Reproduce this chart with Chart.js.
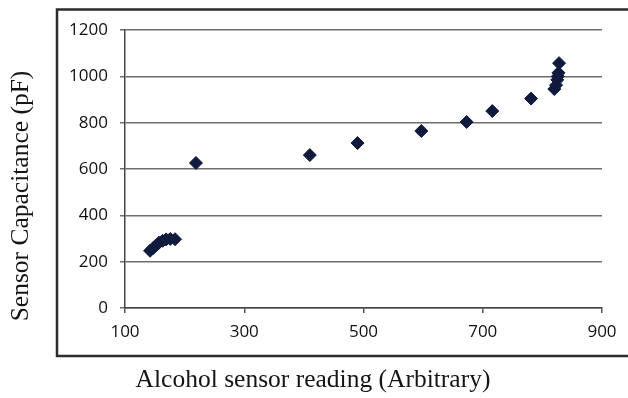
<!DOCTYPE html>
<html>
<head>
<meta charset="utf-8">
<script src="https://cdn.jsdelivr.net/npm/chart.js"></script>
<style>
  html, body { margin: 0; padding: 0; background: #fff; }
  #wrap { width: 628px; height: 398px; }
</style>
</head>
<body>
<div id="wrap"><canvas id="scatter-chart" width="628" height="398"></canvas></div>
<script>
  // values
  const sensorReading = [142, 147, 152, 157, 163, 169, 176, 184, 219, 410, 490, 597, 673, 716, 781, 820, 823, 825, 826, 827, 828];
  const capacitance = [247, 258, 270, 282, 290, 296, 298, 297, 626, 660, 712, 764, 803, 850, 904, 945, 962, 985, 1000, 1015, 1057];
  const xTicks = [100, 300, 500, 700, 900];
  const yTicks = [0, 200, 400, 600, 800, 1000, 1200];

  const xTitle = "Alcohol sensor reading (Arbitrary)";
  const yTitle = "Sensor Capacitance (pF)";

  const points = sensorReading.map((x, i) => ({ x: x, y: capacitance[i] }));

  // frame around the plot and the serif axis titles
  const frameAndTitles = {
    id: "frameAndTitles",
    beforeDraw(chart) {
      const ctx = chart.ctx;
      ctx.save();
      ctx.fillStyle = "#fff";
      ctx.fillRect(0, 0, chart.width, chart.height);
      ctx.strokeStyle = "#2b2b2b";
      ctx.lineWidth = 2.5;
      ctx.strokeRect(57, 9.5, 600, 346.5);
      ctx.restore();
    },
    afterDraw(chart) {
      const ctx = chart.ctx;
      ctx.save();
      ctx.fillStyle = "#151515";
      ctx.font = "25.5px 'Liberation Serif'";
      ctx.textAlign = "center";
      ctx.textBaseline = "middle";
      ctx.fillText(xTitle, 313, 380);
      ctx.translate(21, 196);
      ctx.rotate(-Math.PI / 2);
      ctx.fillText(yTitle, 0, 0);
      ctx.restore();
    },
  };

  const tickFont = { family: "'Open Sans'", size: 17 };

  new Chart(document.getElementById("scatter-chart"), {
    type: "scatter",
    data: {
      datasets: [
        {
          label: "Capacitance",
          data: points,
          pointStyle: "rectRot",
          pointRadius: 6.5,
          pointHoverRadius: 6.5,
          backgroundColor: "#101a3c",
          borderColor: "#101a3c",
          borderWidth: 1,
        },
      ],
    },
    options: {
      responsive: false,
      animation: false,
      layout: { padding: { left: 0, top: 30, right: 26, bottom: 0 } },
      plugins: {
        legend: { display: false },
        tooltip: { enabled: false },
      },
      scales: {
        x: {
          type: "linear",
          min: xTicks[0],
          max: xTicks[xTicks.length - 1],
          afterFit: (s) => { s.height = 90; },
          afterBuildTicks: (s) => { s.ticks = xTicks.map((v) => ({ value: v })); },
          grid: { drawOnChartArea: false, drawTicks: true, tickLength: 5, color: "#555", lineWidth: 1.5 },
          border: { display: true, color: "#444", width: 1.5 },
          ticks: { color: "#111", padding: 9, font: tickFont, callback: (v) => String(v) },
        },
        y: {
          type: "linear",
          min: yTicks[0],
          max: yTicks[yTicks.length - 1],
          afterFit: (s) => { s.width = 125; },
          afterBuildTicks: (s) => { s.ticks = yTicks.map((v) => ({ value: v })); },
          grid: { color: "#6e6e6e", lineWidth: 1.5, tickLength: 5 },
          border: { display: true, color: "#444", width: 1.5 },
          ticks: { color: "#111", padding: 12, font: tickFont, callback: (v) => String(v) },
        },
      },
    },
    plugins: [frameAndTitles],
  });
</script>
</body>
</html>
